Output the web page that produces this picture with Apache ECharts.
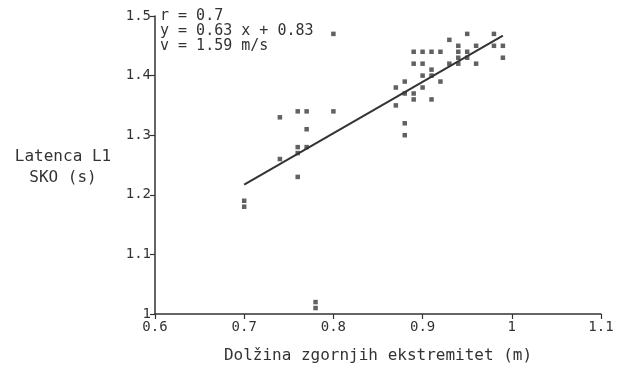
<!DOCTYPE html>
<html>
<head>
<meta charset="utf-8">
<script src="https://cdn.jsdelivr.net/npm/echarts@6/dist/echarts.min.js"></script>
<style>
  html, body { margin: 0; padding: 0; background: #fff; }
  #chart { width: 623px; height: 369px; }
</style>
</head>
<body>
<div id="chart"></div>
<script>
// measured points (x = limb length in m, y = latency SD in s)
const pointX = [
  0.70, 0.70,
  0.74, 0.74,
  0.76, 0.76, 0.76, 0.76,
  0.77, 0.77, 0.77,
  0.78, 0.78,
  0.80, 0.80,
  0.87, 0.87,
  0.88, 0.88, 0.88, 0.88,
  0.89, 0.89, 0.89, 0.89,
  0.90, 0.90, 0.90, 0.90,
  0.91, 0.91, 0.91, 0.91,
  0.92, 0.92,
  0.93, 0.93,
  0.94, 0.94, 0.94, 0.94,
  0.95, 0.95, 0.95,
  0.96, 0.96,
  0.98, 0.98,
  0.99, 0.99
]
const pointY = [
  1.19, 1.18,
  1.33, 1.26,
  1.34, 1.28, 1.27, 1.23,
  1.34, 1.31, 1.28,
  1.02, 1.01,
  1.47, 1.34,
  1.38, 1.35,
  1.39, 1.37, 1.32, 1.30,
  1.44, 1.42, 1.37, 1.36,
  1.44, 1.42, 1.40, 1.38,
  1.44, 1.41, 1.40, 1.36,
  1.44, 1.39,
  1.46, 1.42,
  1.45, 1.44, 1.43, 1.42,
  1.47, 1.44, 1.43,
  1.45, 1.42,
  1.47, 1.45,
  1.45, 1.43
]
// regression line as drawn
const fitX = [0.70, 0.99]
const fitY = [1.217, 1.467]

const statsLines = ["r = 0.7", "y = 0.63 x + 0.83", "v = 1.59 m/s"]

const ink = "#333"
const font = "DejaVu Sans Mono"

const chart = echarts.init(document.getElementById("chart"))

const axisCommon = {
  type: "value",
  interval: 0.1,
  splitLine: { show: false },
  axisLine: { show: true, lineStyle: { color: ink, width: 1.5 } },
  axisTick: { show: true, inside: false, length: 5, lineStyle: { color: ink, width: 1.2 } },
  axisLabel: { color: ink, fontFamily: font, fontSize: 14 },
}

chart.setOption({
  animation: false,
  backgroundColor: "#fff",
  grid: { left: 155, right: 22, top: 16, bottom: 51 },
  xAxis: {
    ...axisCommon,
    min: 0.6,
    max: 1.1,
    axisLabel: { ...axisCommon.axisLabel, margin: 6 },
    name: "Dolžina zgornjih ekstremitet (m)",
    nameLocation: "middle",
    nameGap: 34,
    nameTextStyle: { color: ink, fontFamily: font, fontSize: 16 },
  },
  yAxis: {
    ...axisCommon,
    min: 1,
    max: 1.5,
    axisLabel: { ...axisCommon.axisLabel, margin: 4 },
  },
  graphic: [
    {
      type: "text",
      x: 63,
      y: 167,
      style: {
        text: "Latenca L1\nSKO (s)",
        fill: ink,
        font: "16px " + font,
        align: "center",
        verticalAlign: "middle",
        lineHeight: 21,
      },
    },
    {
      type: "text",
      left: 160,
      top: 9,
      style: {
        text: statsLines.join("\n"),
        fill: ink,
        font: "15px " + font,
        lineHeight: 15,
      },
    },
  ],
  series: [
    {
      type: "scatter",
      symbol: "rect",
      symbolSize: 4.5,
      itemStyle: { color: "#3a3a3a" },
      data: pointX.map((x, i) => [x, pointY[i]]),
    },
    {
      type: "line",
      symbol: "none",
      lineStyle: { color: ink, width: 2 },
      data: fitX.map((x, i) => [x, fitY[i]]),
    },
  ],
})
</script>
</body>
</html>
